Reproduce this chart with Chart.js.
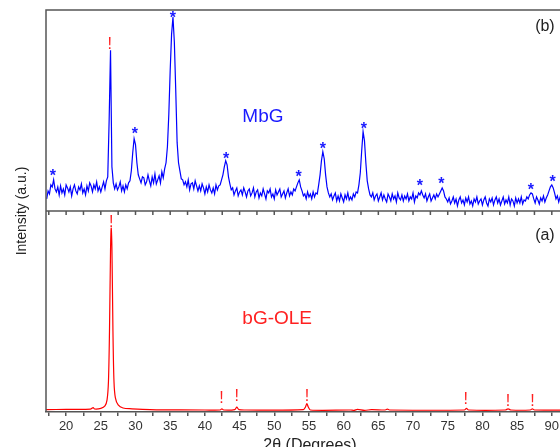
<!DOCTYPE html>
<html>
<head>
<meta charset="utf-8">
<title>XRD patterns</title>
<script src="https://cdn.jsdelivr.net/npm/chart.js@4.4.1/dist/chart.umd.min.js"></script>
<style>
  html, body { margin: 0; padding: 0; background: #fff; overflow: hidden; }
  canvas { display: block; }
</style>
</head>
<body>
<canvas id="xrdChart" width="580" height="460"></canvas>
<script>
// MbG scan: regular 2-theta grid, one count per step
var mbgStart = 17.2;
var mbgStep = 0.2;
var mbgCounts = [
  6, 10, 8.5, 13, 12, 15.5, 11, 9.5, 12, 8,            // 17.2
  12.5, 9, 11, 8, 13, 11.5, 9.5, 12, 7.5, 11,          // 19.2
  13, 10, 8.5, 12, 10.5, 13.5, 9, 11, 8, 12.5,         // 21.2
  10, 14, 12.5, 9.5, 13, 11, 14.5, 10, 12, 9.5,        // 23.2
  12, 14.5, 11, 15, 17, 45, 80, 22, 14, 11,            // 25.2
  13.5, 10.5, 12, 14.5, 10, 12.5, 9.5, 13, 11, 14,     // 27.2
  15, 20, 29, 36, 33, 24, 18, 16, 14, 17,              // 29.2
  16.5, 13, 14.5, 18, 15, 12.5, 17, 14, 18.5, 13.5,    // 31.2
  15.5, 17.5, 14, 19.5, 16.5, 21, 24, 32, 48, 70,      // 33.2
  88, 96.5, 84, 60, 34, 24, 20, 16, 15.5, 13,          // 35.2
  14.5, 12, 15.5, 10.5, 13.5, 14, 11, 15, 12.5, 10,    // 37.2
  12.5, 10, 13.5, 11.5, 8.5, 12, 9.5, 13, 10.5, 9,     // 39.2
  11.5, 8.5, 13, 10.5, 12.5, 13, 15.5, 18, 22, 25,     // 41.2
  23, 17, 13.5, 10.5, 11.5, 8, 10, 11.5, 7.5, 9.5,     // 43.2
  10.5, 8, 11.5, 9.5, 7, 10, 11, 7.5, 9, 11.5,         // 45.2
  7, 9.5, 10.5, 6.5, 9, 7.5, 11, 8.5, 6, 10,           // 47.2
  9, 11, 7, 8.5, 6, 10.5, 8, 9.5, 11, 7,               // 49.2
  8.5, 10, 6.5, 9, 11, 7.5, 9.5, 8, 11, 10,            // 51.2
  12, 14, 15.5, 12, 10, 7.5, 8.5, 6, 9.5, 7,           // 53.2
  8.5, 6, 9.5, 7, 9, 8.5, 13, 18, 25, 29.5,            // 55.2
  26, 18, 12, 9, 7, 8.5, 5.5, 7.5, 9, 5,               // 57.2
  7.5, 5, 8.5, 6.5, 4.5, 8, 6, 9, 5.5, 7,              // 59.2
  5.5, 8.5, 7, 9.5, 9, 13, 19, 30, 39.5, 35,           // 61.2
  24, 15, 11, 8, 7, 9, 5.5, 7.5, 8.5, 5,               // 63.2
  7, 9, 5.5, 8, 6, 4.5, 8.5, 7, 5, 8.5,                // 65.2
  6, 7.5, 4.5, 9, 6.5, 5.5, 8, 5, 7.5, 6,              // 67.2
  8.5, 5, 7, 6, 9, 4.5, 7.5, 6.5, 9, 8,                // 69.2
  10, 8, 6.5, 8.5, 5, 7, 8.5, 5, 6.5, 8,               // 71.2
  6, 8.5, 7, 8.5, 10, 11.5, 10, 7, 6, 4.5,             // 73.2
  6.5, 3.5, 5, 7, 4, 6, 2.5, 5.5, 7, 4,                // 75.2
  5.5, 3, 6.5, 4.5, 7, 3.5, 5, 2.5, 6, 4.5,            // 77.2
  7, 3.5, 5, 6, 3, 5.5, 7, 4, 2.5, 6,                  // 79.2
  4.5, 6.5, 3, 5.5, 7, 4, 6, 3, 5, 7,                  // 81.2
  3.5, 5.5, 4, 7, 3, 6, 5, 2.5, 6.5, 4,                // 83.2
  6, 4, 7, 3.5, 5.5, 5, 7, 6, 8, 9,                    // 85.2
  8.5, 6, 4, 7, 5.5, 3.5, 6.5, 5, 7.5, 4.5,            // 87.2
  6.5, 8, 10, 12, 13, 11.5, 9, 6, 7.5, 4.5,            // 89.2
  7, 5, 8, 4, 6.5, 5.5, 8, 4, 6, 7                     // 91.2
];

// bG-OLE scan, smooth baseline so only sampled where it changes
var oleTheta = [17.1, 20, 23.5, 23.9, 24.1, 25, 25.6, 25.9, 26.1, 26.25, 26.4, 26.5, 26.6, 26.75, 26.9, 27.1, 27.5, 28.2, 29.5, 31, 33,
  40, 42.2, 42.45, 42.7, 44.3, 44.6, 44.9, 46, 54.2, 54.5, 54.7, 54.9, 55.2, 61, 61.5, 62, 63, 64, 66, 66.3, 66.6,
  77.4, 77.7, 78, 83.3, 83.7, 84.1, 86.9, 87.2, 87.5, 93.2];
var oleCounts = [1.2, 1.3, 1.4, 2.2, 1.5, 1.8, 3, 6, 15, 40, 80, 91.5, 82, 40, 15, 7, 3.5, 2, 1.6, 1.3, 1.1,
  1, 1, 1.6, 1, 1.2, 2.4, 1.2, 1, 1.2, 2.5, 4.2, 2.5, 1, 1, 0.8, 1.3, 0.8, 1.2, 1, 1.4, 1,
  1, 1.8, 1, 1, 1.6, 1, 1, 1.6, 1, 1];

// x ticks every 2.5 deg, labelled every 5
var thetaTicks = [17.5, 20, 22.5, 25, 27.5, 30, 32.5, 35, 37.5, 40, 42.5, 45, 47.5, 50, 52.5, 55,
  57.5, 60, 62.5, 65, 67.5, 70, 72.5, 75, 77.5, 80, 82.5, 85, 87.5, 90, 92.5];

// peak markers: "*" over MbG reflections, "!" over graphite reflections
var starTheta = [18.1, 29.9, 35.4, 43.05, 53.5, 57.0, 62.9, 71.0, 74.1, 87.0, 90.1];
var starLevel = [19.5, 40.5, 98, 28, 19, 33, 43, 14.5, 15.5, 12.5, 16.5];
var mbgBangTheta = [26.3];
var mbgBangLevel = [83.5];
var oleBangTheta = [26.5, 42.4, 44.6, 54.7, 77.6, 83.7, 87.2];
var oleBangLevel = [95, 7.5, 8.5, 8.5, 7, 6, 6];

var axisColor = "#555555";
var textColor = "#222222";
var fontFamily = "'Liberation Sans', Arial, sans-serif";
Chart.defaults.font.family = fontFamily;

var mbgPoints = mbgCounts.map(function (v, i) {
  return { x: mbgStart + i * mbgStep, y: v };
});
var olePoints = oleTheta.map(function (t, i) {
  return { x: t, y: oleCounts[i] };
});

function putText(c, str, px, py, font, color, align) {
  c.font = font;
  c.fillStyle = color;
  c.textAlign = align || "center";
  c.textBaseline = "alphabetic";
  c.fillText(str, px, py);
}

// frame, inner axis, panel labels and peak markers
var panelPlugin = {
  id: "panels",
  afterDatasetsDraw: function (chart) {
    var c = chart.ctx;
    var a = chart.chartArea;
    var x = chart.scales.x;
    var yTop = chart.scales.yTop;
    var yBot = chart.scales.yBot;
    var mid = yBot.getPixelForValue(100);

    c.save();
    c.strokeStyle = axisColor;
    c.lineWidth = 1.5;
    c.beginPath();
    c.moveTo(a.left, a.bottom);
    c.lineTo(a.left, a.top);
    c.lineTo(a.right, a.top);
    c.moveTo(a.left, mid);
    c.lineTo(a.right, mid);
    thetaTicks.forEach(function (t) {
      var px = x.getPixelForValue(t);
      c.moveTo(px, mid);
      c.lineTo(px, mid + 4);
    });
    c.stroke();

    starTheta.forEach(function (t, i) {
      putText(c, "*", x.getPixelForValue(t), yTop.getPixelForValue(starLevel[i]) + 9,
        "bold 16px " + fontFamily, "#1a1aff");
    });
    mbgBangTheta.forEach(function (t, i) {
      putText(c, "!", x.getPixelForValue(t), yTop.getPixelForValue(mbgBangLevel[i]) + 6,
        "16px " + fontFamily, "#ff2020");
    });
    oleBangTheta.forEach(function (t, i) {
      putText(c, "!", x.getPixelForValue(t), yBot.getPixelForValue(oleBangLevel[i]) + 6,
        "16px " + fontFamily, "#ff2020");
    });

    putText(c, "MbG", x.getPixelForValue(45.4), yTop.getPixelForValue(44.3), "19px " + fontFamily, "#1a1aff", "left");
    putText(c, "bG-OLE", x.getPixelForValue(45.4), yBot.getPixelForValue(43.8), "19px " + fontFamily, "#ff2020", "left");
    putText(c, "(b)", x.getPixelForValue(87.6), yTop.getPixelForValue(89.6), "16px " + fontFamily, textColor, "left");
    putText(c, "(a)", x.getPixelForValue(87.6), yBot.getPixelForValue(85.6), "16px " + fontFamily, textColor, "left");

    // shared y title for both panels
    c.translate(22, (a.top + a.bottom) / 2);
    c.rotate(-Math.PI / 2);
    c.font = "14px " + fontFamily;
    c.fillStyle = textColor;
    c.textAlign = "center";
    c.textBaseline = "middle";
    c.fillText("Intensity (a.u.)", 0, 0);
    c.restore();
  }
};

var ctx = document.getElementById("xrdChart").getContext("2d");
var xrdChart = new Chart(ctx, {
  type: "line",
  data: {
    datasets: [
      {
        label: "MbG",
        data: mbgPoints,
        yAxisID: "yTop",
        borderColor: "#0000ff",
        borderWidth: 1.2,
        pointRadius: 0,
        tension: 0
      },
      {
        label: "bG-OLE",
        data: olePoints,
        yAxisID: "yBot",
        borderColor: "#ff0000",
        borderWidth: 1.2,
        pointRadius: 0,
        tension: 0.3
      }
    ]
  },
  options: {
    responsive: false,
    animation: false,
    events: [],
    layout: { padding: { left: 46, top: 10, right: 6, bottom: 0 } },
    plugins: {
      legend: { display: false },
      tooltip: { enabled: false }
    },
    scales: {
      x: {
        type: "linear",
        min: 17.1,
        max: 93.2,
        afterBuildTicks: function (scale) {
          scale.ticks = thetaTicks.map(function (v) { return { value: v }; });
        },
        afterFit: function (scale) {
          scale.height = 48;
        },
        ticks: {
          autoSkip: false,
          maxRotation: 0,
          padding: 3,
          color: "#333333",
          font: { size: 13 },
          callback: function (v) {
            return v % 5 === 0 ? String(v) : "";
          }
        },
        grid: {
          drawOnChartArea: false,
          drawTicks: true,
          tickLength: 4,
          color: axisColor,
          lineWidth: 1.5
        },
        border: { display: true, color: axisColor, width: 1.5 },
        title: {
          display: true,
          text: "2θ (Degrees)",
          color: textColor,
          font: { size: 16 },
          padding: { top: 0, bottom: 5 }
        }
      },
      yTop: { display: false, min: -100, max: 100 },
      yBot: { display: false, min: 0, max: 200 }
    }
  },
  plugins: [panelPlugin]
});
</script>
</body>
</html>
